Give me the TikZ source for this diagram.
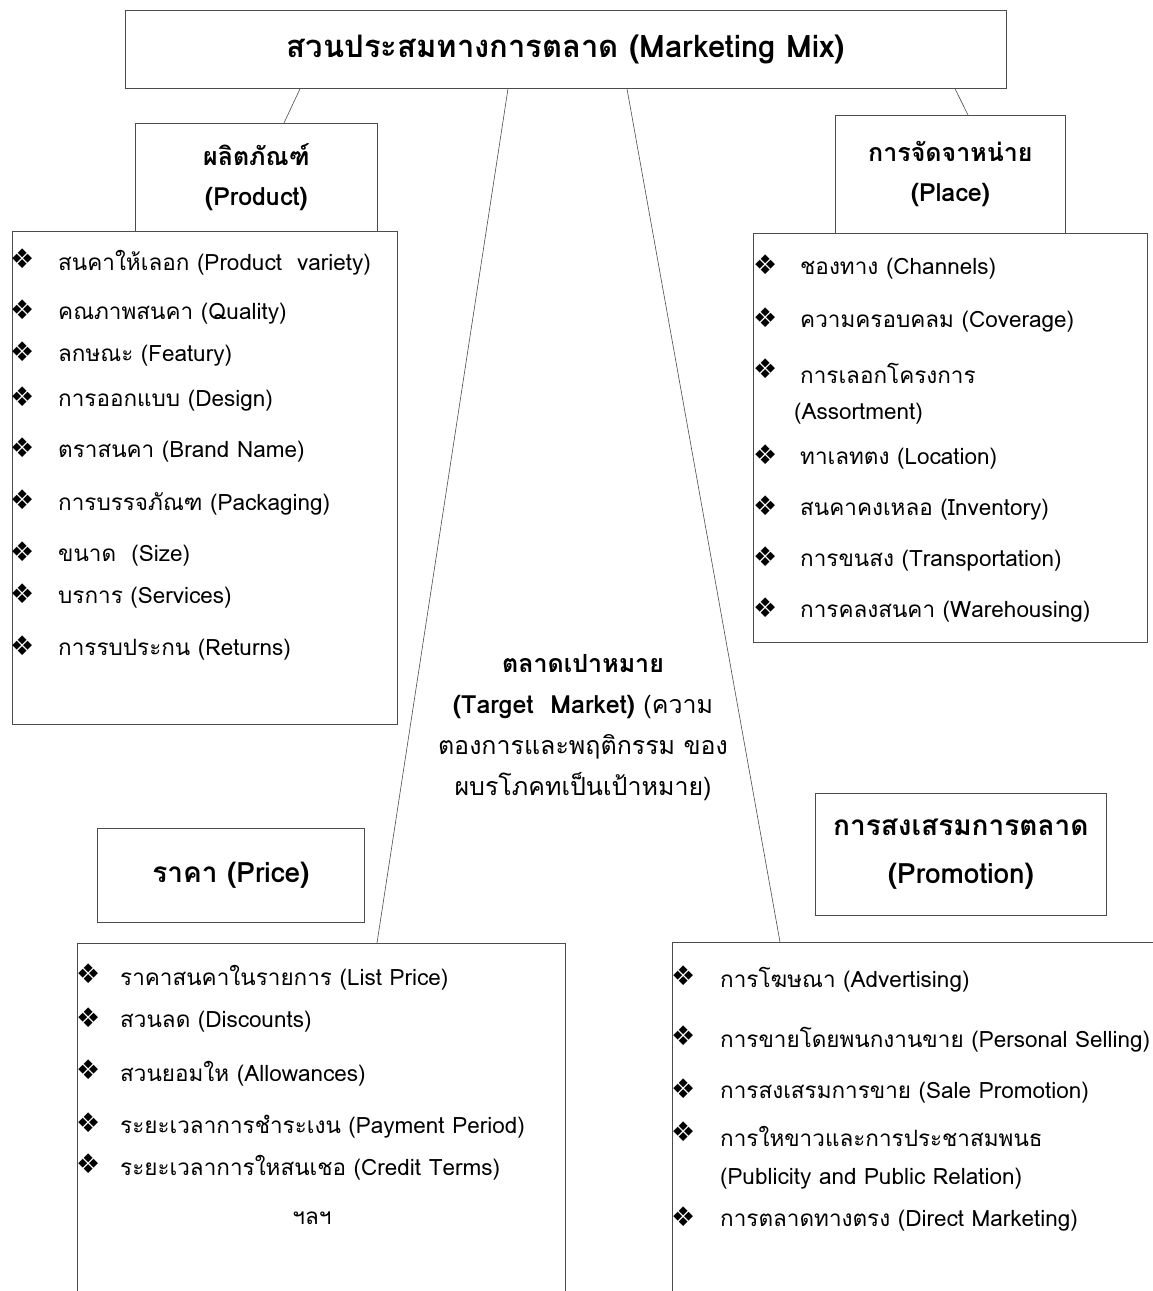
\documentclass[tikz,border=0pt]{standalone}
\usepackage{fontspec}
\setmainfont[Script=Thai]{Loma}
\newfontfamily\dingfont{DejaVu Sans}
\usetikzlibrary{positioning}

\newcommand{\dia}{{\dingfont ❖}}

\begin{document}
\begin{tikzpicture}[x=1pt, y=-1pt,
		box/.style={draw=black!70, line width=0.8pt, anchor=north west, inner sep=0pt, align=center},
		head/.style={font=\bfseries\fontsize{25}{40}\selectfont},
		item/.style={anchor=west, inner sep=0pt, font=\fontsize{22.5}{26}\selectfont},
		bul/.style={anchor=west, inner sep=0pt, font=\fontsize{27}{27}\selectfont},
		link/.style={draw=black!70, line width=0.6pt}
	]
	\useasboundingbox (0,0) rectangle (1153,1291);

	% Boxes
	\node[box, head, minimum width=881pt, minimum height=78pt, font=\bfseries\fontsize{31}{36}\selectfont] (mix) at (125,10) {สวนประสมทางการตลาด (Marketing Mix)};
	\node[box, head, minimum width=242pt, minimum height=108pt] (prodhead) at (135,123) {ผลิตภัณฑ์\\(Product)};
	\node[box, minimum width=385pt, minimum height=493pt] (prodlist) at (12,231) {};
	\node[box, head, minimum width=230pt, minimum height=118pt] (placehead) at (835,115) {การจัดจาหน่าย\\(Place)};
	\node[box, minimum width=394pt, minimum height=409pt] (placelist) at (753,233) {};
	\node[box, head, minimum width=267pt, minimum height=94pt, font=\bfseries\fontsize{28}{30}\selectfont] (pricehead) at (97,828) {ราคา (Price)};
	\node[box, minimum width=488pt, minimum height=370pt] (pricelist) at (77,943) {};
	\node[box, head, minimum width=291pt, minimum height=122pt, font=\bfseries\fontsize{28}{48}\selectfont] (promohead) at (815,793) {การสงเสรมการตลาด\\(Promotion)};
	\node[box, minimum width=500pt, minimum height=370pt] (promolist) at (672,942) {};

	% Target market
	\node[align=center, inner sep=0pt, font=\fontsize{25}{41}\selectfont] (target) at (583,728) {{\bfseries ตลาดเปาหมาย}\\{\bfseries (Target~~Market)} (ความ\\ตองการและพฤติกรรม ของ\\ผบรโภคทเป็นเป้าหมาย)};

	% Items
	\foreach \y/\t [count=\i] in {263/{สนคาให้เลอก (Product~~variety)}, 314/{คณภาพสนคา (Quality)}, 356/{ลกษณะ (Featury)}, 401/{การออกแบบ (Design)}, 452/{ตราสนคา (Brand Name)}, 504/{การบรรจภัณฑ (Packaging)}, 556/{ขนาด~~(Size)}, 598/{บรการ (Services)}, 650/{การรบประกน (Returns)}}{
		\node[bul] (prodb\i) at (10,\y-4) {\dia};
		\node[item] (prodt\i) at (58,\y) {\t};
	}
	\foreach \y/\t [count=\i] in {269/{ชองทาง (Channels)}, 322/{ความครอบคลม (Coverage)}, 373/{การเลอกโครงการ}, 459/{ทาเลทตง (Location)}, 510/{สนคาคงเหลอ (Inventory)}, 561/{การขนสง (Transportation)}, 612/{การคลงสนคา (Warehousing)}}{
		\node[bul] (placeb\i) at (753,\y-4) {\dia};
		\node[item] (placet\i) at (800,\y) {\t};
	}
	\node[item] (assort) at (794,414) {(Assortment)};
	\foreach \y/\t [count=\i] in {978/{ราคาสนคาในรายการ (List Price)}, 1022/{สวนลด (Discounts)}, 1074/{สวนยอมให (Allowances)}, 1127/{ระยะเวลาการชำระเงน (Payment Period)}, 1168/{ระยะเวลาการใหสนเชอ (Credit Terms)}}{
		\node[bul] (priceb\i) at (76,\y-4) {\dia};
		\node[item] (pricet\i) at (120,\y) {\t};
	}
	\node[item, anchor=center] (etc) at (312,1218) {ฯลฯ};
	\foreach \y/\t [count=\i] in {980/{การโฆษณา (Advertising)}, 1040/{การขายโดยพนกงานขาย (Personal Selling)}, 1093/{การสงเสรมการขาย (Sale Promotion)}, 1136/{การใหขาวและการประชาสมพนธ}, 1221/{การตลาดทางตรง (Direct Marketing)}}{
		\node[bul] (promob\i) at (671,\y-4) {\dia};
		\node[item] (promot\i) at (720,\y) {\t};
	}
	\node[item] (public) at (720,1179) {(Publicity and Public Relation)};

	% Lines
	\draw[link] (mix.south -| 300,0) -- (prodhead.north -| 284,0);
	\draw[link] (mix.south -| 955,0) -- (placehead.north -| 968,0);
	\draw[link] (mix.south -| 508,0) -- (pricelist.north -| 377,0);
	\draw[link] (mix.south -| 627,0) -- (promolist.north -| 780,0);

\end{tikzpicture}
\end{document}
